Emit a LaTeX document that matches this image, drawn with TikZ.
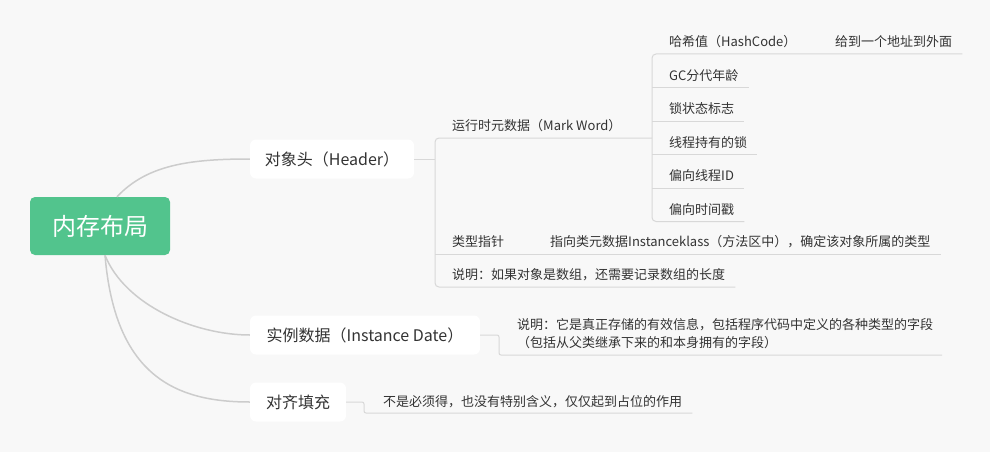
\documentclass[tikz,border=0pt]{standalone}
\usepackage{fontspec}
\setmainfont{Noto Sans CJK SC}
\usetikzlibrary{calc}
\usetikzlibrary{positioning}
\definecolor{bgcol}{HTML}{F8F8F8}
\definecolor{rootcol}{HTML}{52C48D}
\definecolor{txtcol}{HTML}{333333}
\definecolor{curvecol}{HTML}{CCCCCC}
\definecolor{linecol}{HTML}{D8D8D8}
\tikzset{root/.style={rectangle,rounded corners=5pt,fill=rootcol,text=white,minimum width=140pt,minimum height=58pt,font=\fontsize{24}{28}\selectfont}}
\tikzset{topic/.style={rectangle,rounded corners=6pt,fill=white,text=txtcol,minimum height=39pt,inner xsep=0pt,font=\fontsize{16}{19}\selectfont}}
\tikzset{leaf/.style={anchor=west,inner sep=0pt,text=txtcol,font=\fontsize{13}{18}\selectfont}}
\tikzset{branch/.style={draw=curvecol,line width=1.5pt}}
\tikzset{uline/.style={draw=linecol,line width=1pt}}

\begin{document}
\begin{tikzpicture}[x=1pt,y=-1pt]
\useasboundingbox[fill=bgcol] (0,0) rectangle (990,452);

% main topics
\node (R) at (100,226) [root] {内存布局};
\node (H) at (332,159) [topic,minimum width=164pt] {对象头（Header）};
\node (I) at (365,335) [topic,minimum width=230pt] {实例数据（Instance Date）};
\node (A) at (298,402) [topic,minimum width=96pt] {对齐填充};

\draw[branch] ([xshift=17pt]R.north) .. controls +(30,-32) and +(-60,0) .. (H.west);
\draw[branch] ([xshift=5pt]R.south) .. controls +(20,50) and +(-55,0) .. (I.west);
\draw[branch] ([xshift=5pt]R.south) .. controls +(10,120) and +(-75,0) .. (A.west);

% header
\coordinate (HB) at (435,159);
\node (MW) at (452,126) [leaf] {运行时元数据（Mark Word）};
\node (TP) at (452,242) [leaf] {类型指针};
\node (TPd) at (550,242) [leaf] {指向类元数据Instanceklass（方法区中），确定该对象所属的类型};
\node (HN) at (452,275) [leaf] {说明：如果对象是数组，还需要记录数组的长度};

\draw[uline] (H.east) -- (HB);
\draw[uline,rounded corners=4pt] (652,138) -- (435,138) -- (435,287) -- ([xshift=10pt,yshift=-12pt]HN.east);
\draw[uline] (435,254) -- ([xshift=10pt,yshift=-12pt]TPd.east);

% mark word
\foreach \i/\t in {0/哈希值（HashCode）,1/GC分代年龄,2/锁状态标志,3/线程持有的锁,4/偏向线程ID,5/偏向时间戳}
{
	\node (K\i) at (669,42+33.5*\i) [leaf] {\t};
}
\node (K0d) at (835,42) [leaf] {给到一个地址到外面};

\coordinate (MB) at (652,138);
\draw[uline,rounded corners=4pt] ([xshift=10pt,yshift=-12pt]K0d.east) -- (652,54) -- (652,221.5) -- ([xshift=10pt,yshift=-12pt]K5.east);
\foreach \i in {1,...,4}
{
	\draw[uline] ([xshift=-17pt,yshift=-12pt]K\i.west) -- ([xshift=10pt,yshift=-12pt]K\i.east);
}

% instance
\node (ID) at (517,334) [leaf,align=left] {说明：它是真正存储的有效信息，包括程序代码中定义的各种类型的字段\\（包括从父类继承下来的和本身拥有的字段）};
\draw[uline,rounded corners=2pt] (I.east) -- (499,335) -- (499,355) -- (942,355);

% padding
\node (AD) at (383,402) [leaf] {不是必须得，也没有特别含义，仅仅起到占位的作用};
\draw[uline,rounded corners=2pt] (A.east) -- (364,402) -- (364,413) -- ([xshift=10pt,yshift=-11pt]AD.east);
\end{tikzpicture}
\end{document}
